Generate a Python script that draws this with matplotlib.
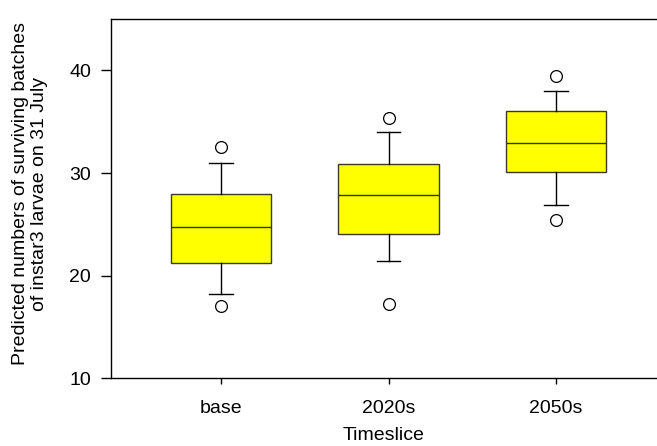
import matplotlib

matplotlib.use("Agg")

import matplotlib.pyplot as plt

plt.rcParams["font.family"] = ["Liberation Sans", "DejaVu Sans"]

# box summary values
labels = ["base", "2020s", "2050s"]
q1 = [21.2, 24.1, 30.1]
med = [24.7, 27.9, 32.9]
q3 = [27.95, 30.85, 36.0]
whislo = [18.2, 21.45, 26.9]
whishi = [31.0, 34.05, 38.0]
fliers = [[32.5, 17.0], [35.35, 17.25], [39.5, 25.4]]

stats = []
for i, lab in enumerate(labels):
    stats.append(dict(label=lab, q1=q1[i], med=med[i], q3=q3[i],
                      whislo=whislo[i], whishi=whishi[i], fliers=fliers[i]))

fig = plt.figure(figsize=(6.57, 4.46), dpi=100)
ax = fig.add_axes([0.169, 0.152, 0.831, 0.805])

ax.bxp(stats, positions=[1, 2, 3], widths=0.6, patch_artist=True,
       boxprops=dict(facecolor="#ffff00", edgecolor="#3a3a20", lw=1),
       medianprops=dict(color="#333318", lw=1),
       whiskerprops=dict(color="black", lw=1),
       capprops=dict(color="black", lw=1),
       capwidths=0.14,
       flierprops=dict(marker="o", markersize=8.5, markerfacecolor="white",
                       markeredgecolor="black", markeredgewidth=0.9))

ax.set_xlim(0.343, 3.603)
ax.set_ylim(10, 45)
ax.set_yticks([10, 20, 30, 40])
ax.spines["right"].set_visible(False)
for s in ("left", "bottom", "top"):
    ax.spines[s].set_linewidth(1.0)
ax.tick_params(axis="y", length=7, width=1, labelsize=14, pad=7.5)
ax.tick_params(axis="x", length=4, width=1, labelsize=14, pad=12)

ax.set_xlabel("Timeslice", fontsize=14, labelpad=7)
ax.set_ylabel("Predicted numbers of surviving batches\nof instar3 larvae on 31 July",
              fontsize=14)
ax.yaxis.set_label_coords(-0.115, 0.514)

fig.savefig("out.png", dpi=100)
